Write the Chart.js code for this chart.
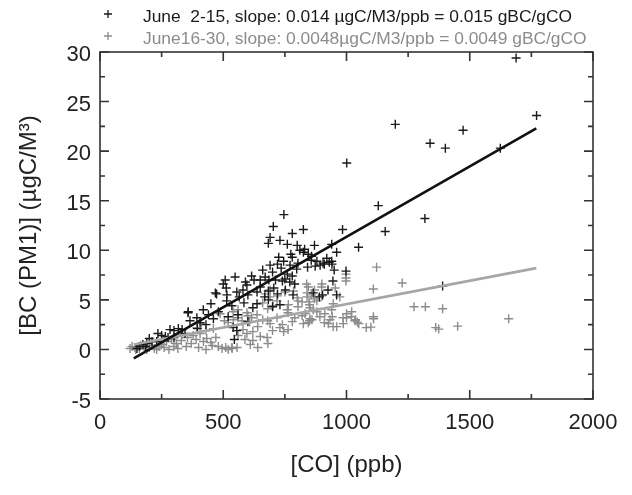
<!DOCTYPE html>
<html>
<head>
<meta charset="utf-8">
<script src="https://cdn.jsdelivr.net/npm/chart.js@4/dist/chart.umd.min.js"></script>
<style>
  html, body { margin: 0; padding: 0; background: #fff; }
</style>
</head>
<body>
<canvas id="bc" width="632" height="495"></canvas>
<script>
// June 2-15 (black crosses)
const earlyCO = [1688, 1771, 1198, 1473, 1339, 1401, 1624, 1001, 1129, 1318, 984, 1157, 825, 1049, 998, 1390,
  746, 703, 780, 690, 683, 760, 940, 960, 811, 825, 830, 774, 780, 858, 940, 930, 905, 893, 910, 941, 945, 903,
  960, 803, 798, 771, 745, 735, 720, 760, 750, 712, 660, 670, 685, 700, 615, 625, 590, 596, 548, 508, 468, 512,
  515, 555, 565, 580, 637, 650, 668, 683, 705, 720, 740, 752, 770, 783, 780, 790, 584, 637, 683, 419, 440, 460,
  357, 365, 393, 406, 284, 300, 318, 333, 235, 250, 265, 276, 174, 185, 200, 211, 160, 150, 358, 473, 514, 500,
  857, 873, 920, 842, 880, 845, 950, 865, 890, 925, 555, 560, 540, 545, 600, 520, 430, 480, 620, 700,
  730, 395, 345, 300, 230, 190, 450, 535, 600, 650, 690, 725, 730, 800, 870];
const earlyBC = [29.4, 23.6, 22.7, 22.1, 20.8, 20.3, 20.3, 18.8, 14.5, 13.2, 12.1, 11.9, 12.1, 10.3, 7.9, 6.4,
  13.6, 12.4, 11.7, 11.3, 10.7, 10.6, 10.6, 9.8, 10.0, 9.8, 10.1, 9.6, 9.3, 9.4, 8.9, 8.8, 8.7, 8.5, 8.6, 8.6, 6.9, 5.5,
  5.5, 8.7, 8.1, 8.5, 8.9, 8.2, 8.6, 7.6, 7.1, 7.0, 8.0, 7.3, 7.0, 7.8, 7.4, 7.0, 6.8, 6.5, 7.3, 7.0, 5.7, 6.2,
  5.5, 5.8, 5.3, 6.0, 5.8, 6.3, 5.3, 5.9, 6.2, 5.6, 6.9, 6.0, 6.8, 5.5, 7.4, 6.6, 4.7, 4.6, 5.0, 4.0, 3.5, 3.1,
  3.7, 2.9, 3.2, 2.7, 2.0, 1.9, 2.1, 2.0, 1.6, 1.4, 1.3, 1.2, 0.5, 0.3, 1.1, 0.8, 0.3, 0.1, 3.8, 5.6, 4.9, 6.6,
  9.0, 8.4, 9.2, 8.3, 8.9, 9.6, 8.0, 5.7, 5.3, 6.0, 1.9, 3.5, 2.2, 1.0, 2.8, 3.3, 2.5, 3.8, 4.2, 4.3,
  4.5, 2.1, 1.6, 1.2, 0.8, 0.6, 4.6, 4.4, 5.5, 7.0, 8.5, 9.3, 11.0, 10.5, 10.5];

// June 16-30 (gray crosses)
const lateCO = [1122, 1109, 998, 998, 998, 1226, 973, 1021, 1274, 1320, 1390, 987, 1037, 1044, 1109, 1099, 1362,
  1374, 1451, 1658, 838, 899, 852, 848, 858, 946, 926, 942, 892, 912, 825, 860, 840, 850, 865, 880, 870, 803, 803,
  760, 764, 690, 718, 660, 680, 702, 596, 615, 637, 541, 560, 576, 487, 505, 520, 393, 410, 430, 460, 333, 355,
  378, 142, 160, 180, 200, 220, 240, 260, 280, 300, 316, 495, 510, 520, 535, 933, 960, 1000, 1050, 1080, 1110,
  680, 700, 740, 780, 596, 620, 650, 681, 406, 433, 946, 832, 845, 852, 845, 870, 900, 954, 785, 800, 820, 840,
  900, 670, 690, 720, 750, 763, 790, 820, 850, 880, 910, 940, 986, 540, 560, 600, 607, 640, 660, 690, 718, 730,
  745, 763, 588, 610, 640, 678, 536, 556, 1000, 1020, 1034, 250, 270, 290, 310, 330, 350, 370, 390, 420, 450,
  470, 480, 400, 430, 455, 560, 580, 620, 122, 130, 145, 165, 190, 210, 230];
const lateBC = [8.3, 6.1, 7.6, 7.2, 6.9, 6.7, 5.3, 3.8, 4.3, 4.3, 4.1, 2.6, 3.0, 2.75, 3.3, 2.25, 2.2,
  2.05, 2.35, 3.1, 6.6, 6.3, 4.2, 4.8, 5.5, 4.6, 2.6, 3.3, 3.3, 3.6, 2.6, 3.0, 5.3, 4.5, 4.0, 4.9, 5.1, 4.3, 4.9,
  4.0, 4.5, 5.3, 4.9, 4.7, 4.1, 4.4, 3.7, 3.2, 3.5, 3.0, 3.2, 2.9, 3.6, 2.9, 2.7, 2.2, 2.6, 1.9, 2.1, 1.5, 1.2,
  1.4, 0.2, 0.1, 0.3, 0.2, 0.1, 0.3, 0.2, 0.0, 0.3, 0.1, 0.1, 0.2, 0.0, 0.2, 3.0, 2.3, 3.2, 2.6, 2.2, 3.1,
  2.9, 1.9, 2.5, 2.8, 1.6, 0.9, 1.3, 0.6, 1.6, 1.1, 2.3, 3.6, 2.7, 3.1, 6.3, 6.0, 6.6, 6.2, 5.9, 5.2, 4.8, 5.7,
  5.4, 5.6, 6.0, 5.4, 5.8, 3.7, 3.2, 3.4, 2.9, 3.8, 2.7, 4.0, 3.2, 3.8, 4.0, 3.4, 2.8, 2.3, 3.0, 2.6, 3.2, 2.2,
  1.8, 2.0, 1.0, 0.5, 0.2, 1.2, 0.1, 0.2, 3.6, 3.3, 2.9, 0.5, 0.8, 1.0, 0.6, 0.9, 0.3, 0.6, 1.0, 0.8, 0.7,
  1.2, 0.3, 0.2, 0.0, 0.4, 1.4, 2.0, 1.8, 0.1, 0.3, 0.0, 0.4, 0.0, 0.4, 0.0];

// regression lines (end points)
const fitCO = [137, 1770];
const fitEarlyBC = [-0.9, 22.3];
const fitLateBC = [0.5, 8.2];

const legendLabels = [
  'June  2-15, slope: 0.014 \u00b5gC/M3/ppb = 0.015 gBC/gCO',
  'June16-30, slope: 0.0048\u00b5gC/M3/ppb = 0.0049 gBC/gCO'
];
const legendColors = ['#1a1a1a', '#8c8c8c'];

const xTitle = '[CO] (ppb)';
const yTitle = '[BC (PM1)] (\u00b5gC/M\u00b3)';

const FONT = '"Liberation Sans", Arial, sans-serif';

function toPoints(xs, ys) {
  return xs.map((v, i) => ({ x: v, y: ys[i] }));
}

// frame all round with ticks pointing in, like the original plot
const frameTicks = {
  id: 'frameTicks',
  afterDatasetsDraw(chart) {
    const { ctx, chartArea: a, scales } = chart;
    const x = scales.x, y = scales.y;
    ctx.save();
    ctx.strokeStyle = '#333';
    ctx.lineWidth = 1.6;
    ctx.strokeRect(a.left, a.top, a.right - a.left, a.bottom - a.top);
    ctx.beginPath();
    for (let v = x.min; v <= x.max; v += 250) {
      const px = x.getPixelForValue(v);
      const len = v % 500 === 0 ? 9 : 5;
      ctx.moveTo(px, a.bottom); ctx.lineTo(px, a.bottom - len);
      ctx.moveTo(px, a.top); ctx.lineTo(px, a.top + len);
    }
    for (let v = y.min; v <= y.max; v += 2.5) {
      const py = y.getPixelForValue(v);
      const len = v % 5 === 0 ? 9 : 5;
      ctx.moveTo(a.left, py); ctx.lineTo(a.left + len, py);
      ctx.moveTo(a.right, py); ctx.lineTo(a.right - len, py);
    }
    ctx.stroke();
    ctx.restore();
  }
};

// legend at the top, two lines
const topLegend = {
  id: 'topLegend',
  afterDraw(chart) {
    const ctx = chart.ctx;
    ctx.save();
    ctx.font = '17.4px ' + FONT;
    ctx.textBaseline = 'middle';
    legendLabels.forEach((txt, i) => {
      const yy = 17 + i * 22;
      ctx.strokeStyle = legendColors[i];
      ctx.lineWidth = 1.3;
      ctx.beginPath();
      ctx.moveTo(104, yy - 3); ctx.lineTo(112, yy - 3);
      ctx.moveTo(108, yy - 7); ctx.lineTo(108, yy + 1);
      ctx.stroke();
      ctx.fillStyle = legendColors[i];
      ctx.fillText(txt, 143, yy);
    });
    ctx.restore();
  }
};

new Chart(document.getElementById('bc'), {
  type: 'scatter',
  data: {
    datasets: [
      {
        label: 'fit June 2-15',
        type: 'line',
        data: toPoints(fitCO, fitEarlyBC),
        borderColor: '#111',
        borderWidth: 2.6,
        pointRadius: 0,
        order: 0
      },
      {
        label: 'fit June 16-30',
        type: 'line',
        data: toPoints(fitCO, fitLateBC),
        borderColor: '#a6a6a6',
        borderWidth: 2.6,
        pointRadius: 0,
        order: 0
      },
      {
        label: legendLabels[0],
        data: toPoints(earlyCO, earlyBC),
        pointStyle: 'cross',
        pointRadius: 4.5,
        pointBorderWidth: 1.4,
        borderColor: legendColors[0],
        backgroundColor: legendColors[0],
        order: 1
      },
      {
        label: legendLabels[1],
        data: toPoints(lateCO, lateBC),
        pointStyle: 'cross',
        pointRadius: 4.5,
        pointBorderWidth: 1.4,
        borderColor: legendColors[1],
        backgroundColor: legendColors[1],
        order: 2
      }
    ]
  },
  options: {
    responsive: false,
    animation: false,
    layout: { padding: { top: 52, right: 39, bottom: 10, left: 10 } },
    plugins: {
      legend: { display: false },
      tooltip: { enabled: false }
    },
    scales: {
      x: {
        type: 'linear',
        min: 0,
        max: 2000,
        ticks: {
          stepSize: 500, color: '#222', font: { family: FONT, size: 22 }, padding: 11,
          callback: (v) => String(v)
        },
        grid: { display: false, drawTicks: false },
        border: { display: false },
        title: { display: true, text: xTitle, color: '#222', font: { family: FONT, size: 24 }, padding: { top: 4, bottom: 5 } },
        afterFit(scale) { scale.height = 86; }
      },
      y: {
        min: -5,
        max: 30,
        ticks: {
          stepSize: 5, color: '#222', font: { family: FONT, size: 22 }, padding: 9, labelOffset: 3,
          callback: (v) => String(v)
        },
        grid: { display: false, drawTicks: false },
        border: { display: false },
        title: { display: true, text: yTitle, color: '#222', font: { family: FONT, size: 24 }, padding: { top: 5, bottom: 4 } },
        afterFit(scale) { scale.width = 90; }
      }
    }
  },
  plugins: [frameTicks, topLegend]
});
</script>
</body>
</html>
